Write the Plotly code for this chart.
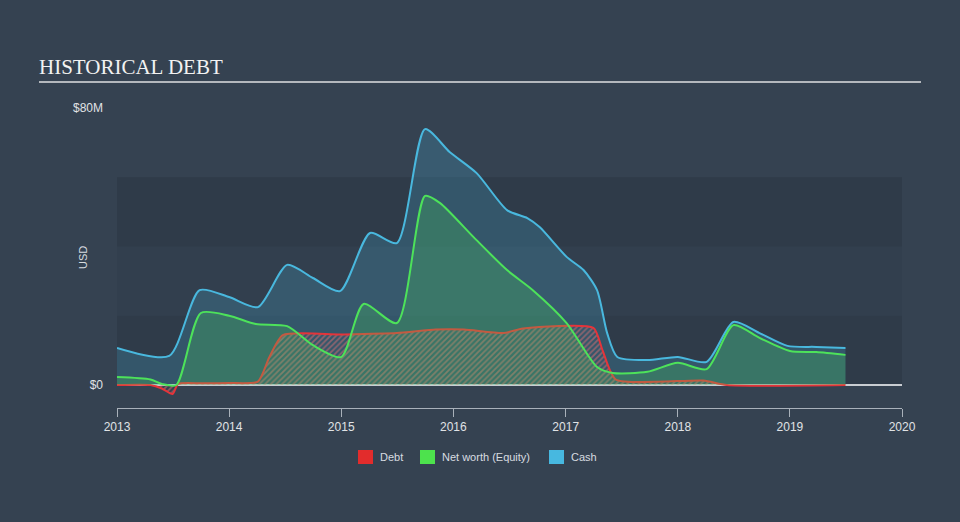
import plotly.graph_objects as go

# values (USD millions)
cash_dates = ['2013-01-01', '2013-06-20', '2013-09-27', '2014-01-01', '2014-04-05', '2014-07-09',
              '2014-10-01', '2014-12-28', '2015-04-05', '2015-07-01', '2015-10-01', '2015-12-20',
              '2016-03-17', '2016-06-24', '2016-08-29', '2016-10-08', '2017-01-04', '2017-02-28',
              '2017-04-13', '2017-05-16', '2017-06-18', '2017-09-24', '2018-01-01', '2018-04-05',
              '2018-07-01', '2018-09-24', '2018-12-24', '2019-03-28', '2019-07-01']
cash = [10.7, 8.4, 27.4, 25.4, 22.5, 34.7,
        30.9, 27.1, 43.9, 41.0, 73.9, 67.3,
        61.2, 50.5, 48.2, 45.6, 37.0, 33.2,
        27.4, 15.0, 8.1, 7.2, 8.1, 6.7,
        18.2, 15.0, 11.3, 11.0, 10.7]

equity_dates = ['2013-01-01', '2013-04-20', '2013-05-27', '2013-07-13', '2013-10-01', '2014-01-01',
                '2014-03-29', '2014-07-09', '2014-10-01', '2015-01-01', '2015-03-15', '2015-07-01',
                '2015-10-01', '2015-11-18', '2016-03-07', '2016-06-24', '2016-09-16', '2017-01-04',
                '2017-04-13', '2017-06-03', '2017-09-24', '2018-01-01', '2018-04-05', '2018-07-01',
                '2018-09-24', '2019-01-01', '2019-03-28', '2019-07-01']
equity = [2.3, 1.6, 0.3, 0.0, 20.8, 20.0,
          17.6, 17.0, 11.5, 8.1, 23.4, 17.9,
          54.6, 52.6, 42.7, 33.2, 27.4, 17.9,
          5.2, 3.5, 3.8, 6.4, 4.6, 17.3,
          13.6, 9.8, 9.5, 8.7]

debt_dates = ['2013-01-01', '2013-04-20', '2013-05-27', '2013-07-01', '2013-07-19', '2013-10-01',
              '2014-01-01', '2014-04-05', '2014-05-12', '2014-06-25', '2015-01-01', '2015-07-01',
              '2015-11-05', '2016-02-05', '2016-06-13', '2016-08-15', '2017-04-01', '2017-05-01',
              '2017-06-13', '2018-03-25', '2018-06-10', '2019-07-01']
debt = [0.0, 0.0, -1.0, -2.6, 0.3, 0.5,
        0.6, 1.0, 8.0, 14.4, 14.6, 15.0,
        16.0, 16.0, 15.0, 16.3, 16.5, 10.0,
        1.6, 1.3, 0.0, 0.0]

y_ticks = [0, 80]
y_labels = ['$0', '$80M']
years = ['2013', '2014', '2015', '2016', '2017', '2018', '2019', '2020']
legend_names = ['Debt', 'Net worth (Equity)', 'Cash']
legend_colors = ['#e22c2c', '#4de24d', '#47b8e0']

BG = '#354251'
BAND = '#2f3b49'
RED = '#e5343a'
GREEN = '#4de25a'
BLUE = '#49b8de'
TXT = '#d8dce0'

fig = go.Figure()

fig.add_trace(go.Scatter(x=cash_dates, y=cash, mode='lines', line=dict(color=BLUE, width=2, shape='spline', smoothing=0.7),
                         fill='tozeroy', fillcolor='rgba(73,184,222,0.22)', showlegend=False, hoverinfo='skip'))
fig.add_trace(go.Scatter(x=debt_dates, y=debt, mode='lines', line=dict(color=RED, width=2, shape='spline', smoothing=0.6),
                         fill='tozeroy', fillcolor='rgba(0,0,0,0)',
                         fillpattern=dict(shape='/', fgcolor='rgba(240,115,115,0.95)', bgcolor='rgba(0,0,0,0)',
                                          size=4, solidity=0.45),
                         showlegend=False, hoverinfo='skip'))
fig.add_trace(go.Scatter(x=equity_dates, y=equity, mode='lines', line=dict(color=GREEN, width=2, shape='spline', smoothing=0.7),
                         fill='tozeroy', fillcolor='rgba(77,226,90,0.22)', showlegend=False, hoverinfo='skip'))

W, H = 960, 522
L, R, T, B = 117, 58, 108, 114
PW, PH = W - L - R, H - T - B


def px_x(x):
    return (x - L) / PW


def px_y(y):
    return (H - B - y) / PH


shapes = [
    dict(type='rect', xref='paper', x0=0, x1=1, yref='y', y0=0, y1=20, fillcolor=BAND, line_width=0, layer='below'),
    dict(type='rect', xref='paper', x0=0, x1=1, yref='y', y0=20, y1=40, fillcolor='#323f4e', line_width=0, layer='below'),
    dict(type='rect', xref='paper', x0=0, x1=1, yref='y', y0=40, y1=60, fillcolor=BAND, line_width=0, layer='below'),
    dict(type='line', xref='paper', x0=0, x1=1, yref='y', y0=0, y1=0, line=dict(color='#c9cdd2', width=2), layer='below'),
    # title underline
    dict(type='line', xref='paper', x0=px_x(39), x1=px_x(921), yref='paper', y0=px_y(82), y1=px_y(82),
         line=dict(color='#b4b8bd', width=2)),
]
annotations = [dict(text='USD', xref='paper', yref='paper', x=px_x(75), y=px_y(258),
                    textangle=-90, showarrow=False, font=dict(size=11, color=TXT))]

# legend drawn by hand: square + label
leg_x = [358, 420, 549]
for name, col, lx in zip(legend_names, legend_colors, leg_x):
    shapes.append(dict(type='rect', xref='paper', yref='paper', x0=px_x(lx), x1=px_x(lx + 15),
                       y0=px_y(464), y1=px_y(450), fillcolor=col, line_width=0))
    annotations.append(dict(text=name, xref='paper', yref='paper', x=px_x(lx + 20), y=px_y(457),
                            xanchor='left', yanchor='middle', showarrow=False,
                            font=dict(size=11, color=TXT)))

fig.update_layout(
    width=W, height=H,
    paper_bgcolor=BG, plot_bgcolor=BG,
    margin=dict(l=L, r=R, t=T, b=B),
    shapes=shapes,
    annotations=annotations,
    showlegend=False,
    hovermode=False,
    title=dict(text='HISTORICAL DEBT', x=39 / W, xanchor='left', y=1 - 67 / H, yanchor='middle',
               font=dict(family='Liberation Serif, Times New Roman, serif', size=21, color='#f2f2f2')),
    font=dict(family='Liberation Sans, Arial, sans-serif'),
)

fig.update_xaxes(type='date', range=['2013-01-01', '2020-01-01'],
                 tickvals=[y + '-01-01' for y in years], ticktext=years,
                 showgrid=False, zeroline=False, showline=True, linecolor='#a9b1ba', linewidth=1,
                 ticks='outside', ticklen=8, tickcolor='#a9b1ba',
                 tickfont=dict(family='Liberation Sans, sans-serif', size=12, color='#e0e3e6'))
fig.update_yaxes(range=[-6.64, 80], tickvals=y_ticks, ticktext=y_labels, showgrid=False, zeroline=False,
                 showline=False, ticks='', ticklabelstandoff=13,
                 tickfont=dict(size=12, color='#e0e3e6'))

fig.write_html('out.html', config={'displayModeBar': False},
               post_script="document.body.style.margin='0';")
